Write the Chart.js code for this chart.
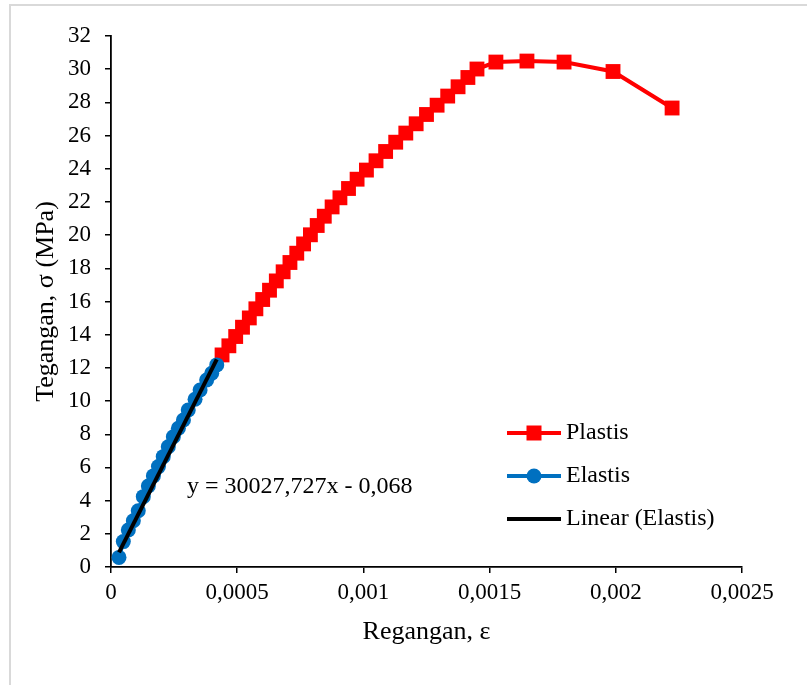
<!DOCTYPE html>
<html>
<head>
<meta charset="utf-8">
<script src="https://cdn.jsdelivr.net/npm/chart.js@4.4.0/dist/chart.umd.min.js"></script>
<style>
  html, body { margin: 0; padding: 0; background: #fff; overflow: hidden; }
  #wrap { position: relative; width: 807px; height: 685px; }
  #frame { position: absolute; left: 9px; top: 4px; width: 1000px; height: 1000px; border: 2px solid #d9d9d9; }
  #chart { position: absolute; left: 0; top: 0; }
</style>
</head>
<body>
<div id="wrap">
  <div id="frame"></div>
  <canvas id="chart" width="807" height="685"></canvas>
</div>
<script>
// Strain (Regangan) and stress (Tegangan, MPa)
const elastisStrain = [0.0000317, 0.0000488, 0.0000687, 0.0000885, 0.000108, 0.000128, 0.000148, 0.000168, 0.000188, 0.000207,
  0.000227, 0.000247, 0.000267, 0.000287, 0.000306, 0.000333, 0.000353, 0.000379, 0.000399, 0.000419];
const elastisStress = [0.58, 1.53, 2.23, 2.79, 3.39, 4.24, 4.88, 5.49, 6.05, 6.65,
  7.25, 7.85, 8.36, 8.86, 9.46, 10.11, 10.67, 11.27, 11.68, 12.18];

const plastisStrain = [0.000440, 0.000467, 0.000494, 0.000521, 0.000548, 0.000574, 0.000601, 0.000628, 0.000655, 0.000682,
  0.000709, 0.000736, 0.000763, 0.000790, 0.000817, 0.000845, 0.000876, 0.000907, 0.000941, 0.000975,
  0.001012, 0.001050, 0.001088, 0.001128, 0.001168, 0.001209, 0.001250, 0.001292, 0.001334, 0.001375,
  0.001414, 0.001450, 0.001525, 0.001648, 0.001795, 0.001989, 0.002223];
const plastisStress = [12.78, 13.33, 13.89, 14.45, 15.01, 15.56, 16.12, 16.68, 17.24, 17.79,
  18.35, 18.91, 19.47, 20.02, 20.58, 21.14, 21.70, 22.25, 22.81, 23.37,
  23.92, 24.48, 25.04, 25.60, 26.15, 26.71, 27.27, 27.83, 28.38, 28.94,
  29.50, 30.01, 30.43, 30.49, 30.43, 29.86, 27.66];

// Linear (Elastis) trendline ends
const trendStrain = [0.0000317, 0.000419];
const trendStress = [0.88, 12.51];
const trendLabel = 'y = 30027,727x - 0,068';

const xTicks = [0, 0.0005, 0.001, 0.0015, 0.002, 0.0025];
const yTicks = [0, 2, 4, 6, 8, 10, 12, 14, 16, 18, 20, 22, 24, 26, 28, 30, 32];

const serif = "'Liberation Serif', 'Times New Roman', serif";

function toPoints(xs, ys) {
  return xs.map((x, i) => ({ x: x, y: ys[i] }));
}

function fmtComma(v) {
  return String(Number(v.toFixed(6))).replace('.', ',');
}

// equation text + legend drawn inside the plot
const overlayPlugin = {
  id: 'overlay',
  afterDraw(chart) {
    const ctx = chart.ctx;
    const xs = chart.scales.x;
    const ys = chart.scales.y;
    ctx.save();
    ctx.fillStyle = '#000';
    ctx.font = '24px ' + serif;
    ctx.textBaseline = 'middle';
    ctx.textAlign = 'left';
    ctx.fillText(trendLabel, xs.getPixelForValue(0.000301), ys.getPixelForValue(4.82));

    const items = chart.data.datasets.slice().sort((a, b) => a.legendRank - b.legendRank);
    const x0 = 507, x1 = 561;
    let y = 433;
    items.forEach(ds => {
      ctx.strokeStyle = ds.borderColor;
      ctx.lineWidth = ds.borderWidth;
      ctx.beginPath();
      ctx.moveTo(x0, y);
      ctx.lineTo(x1, y);
      ctx.stroke();
      if (ds.pointRadius > 0) {
        ctx.fillStyle = ds.backgroundColor;
        if (ds.pointStyle === 'rect') {
          const s = 7.5;
          ctx.fillRect((x0 + x1) / 2 - s, y - s, 2 * s, 2 * s);
        } else {
          ctx.beginPath();
          ctx.arc((x0 + x1) / 2, y, 7.5, 0, Math.PI * 2);
          ctx.fill();
        }
      }
      ctx.fillStyle = '#000';
      ctx.fillText(ds.label, 566, y);
      y += 43;
    });
    ctx.restore();
  }
};

new Chart(document.getElementById('chart'), {
  type: 'scatter',
  data: {
    datasets: [
      {
        label: 'Linear (Elastis)',
        legendRank: 3,
        data: toPoints(trendStrain, trendStress),
        showLine: true,
        borderColor: '#000000',
        backgroundColor: '#000000',
        borderWidth: 4,
        pointRadius: 0,
        order: 1
      },
      {
        label: 'Elastis',
        legendRank: 2,
        data: toPoints(elastisStrain, elastisStress),
        showLine: true,
        borderColor: '#0070C0',
        backgroundColor: '#0070C0',
        borderWidth: 4,
        pointStyle: 'circle',
        pointRadius: 7.5,
        pointBorderWidth: 0,
        order: 2
      },
      {
        label: 'Plastis',
        legendRank: 1,
        data: toPoints(plastisStrain, plastisStress),
        showLine: true,
        borderColor: '#FF0000',
        backgroundColor: '#FF0000',
        borderWidth: 4,
        pointStyle: 'rect',
        pointRadius: 10.5,
        pointBorderWidth: 0,
        order: 3
      }
    ]
  },
  options: {
    responsive: false,
    animation: false,
    devicePixelRatio: 1,
    layout: { padding: { left: 0, top: 36, right: 65, bottom: 0 } },
    plugins: {
      legend: { display: false },
      tooltip: { enabled: false }
    },
    scales: {
      x: {
        type: 'linear',
        min: 0,
        max: 0.0025,
        afterBuildTicks: (scale) => { scale.ticks = xTicks.map(v => ({ value: v })); },
        afterFit: (scale) => { scale.height = 118; },
        ticks: {
          color: '#000',
          font: { family: serif, size: 23 },
          padding: 6,
          maxRotation: 0,
          callback: (v) => fmtComma(v)
        },
        grid: { drawOnChartArea: false, drawTicks: true, tickLength: 6, color: '#000', lineWidth: 1.5 },
        border: { display: true, color: '#000', width: 1.8 },
        title: {
          display: true,
          text: 'Regangan, ε',
          color: '#000',
          font: { family: serif, size: 26 },
          padding: { top: 0, bottom: 37 }
        }
      },
      y: {
        type: 'linear',
        min: 0,
        max: 32,
        afterBuildTicks: (scale) => { scale.ticks = yTicks.map(v => ({ value: v })); },
        afterFit: (scale) => { scale.width = 111; },
        ticks: {
          color: '#000',
          font: { family: serif, size: 23 },
          padding: 14,
          callback: (v) => String(v)
        },
        grid: { drawOnChartArea: false, drawTicks: true, tickLength: 6, color: '#000', lineWidth: 1.5 },
        border: { display: true, color: '#000', width: 1.8 },
        title: {
          display: true,
          text: 'Tegangan, σ (MPa)',
          color: '#000',
          font: { family: serif, size: 26 },
          padding: { top: 31, bottom: 0 }
        }
      }
    }
  },
  plugins: [overlayPlugin]
});
</script>
</body>
</html>
